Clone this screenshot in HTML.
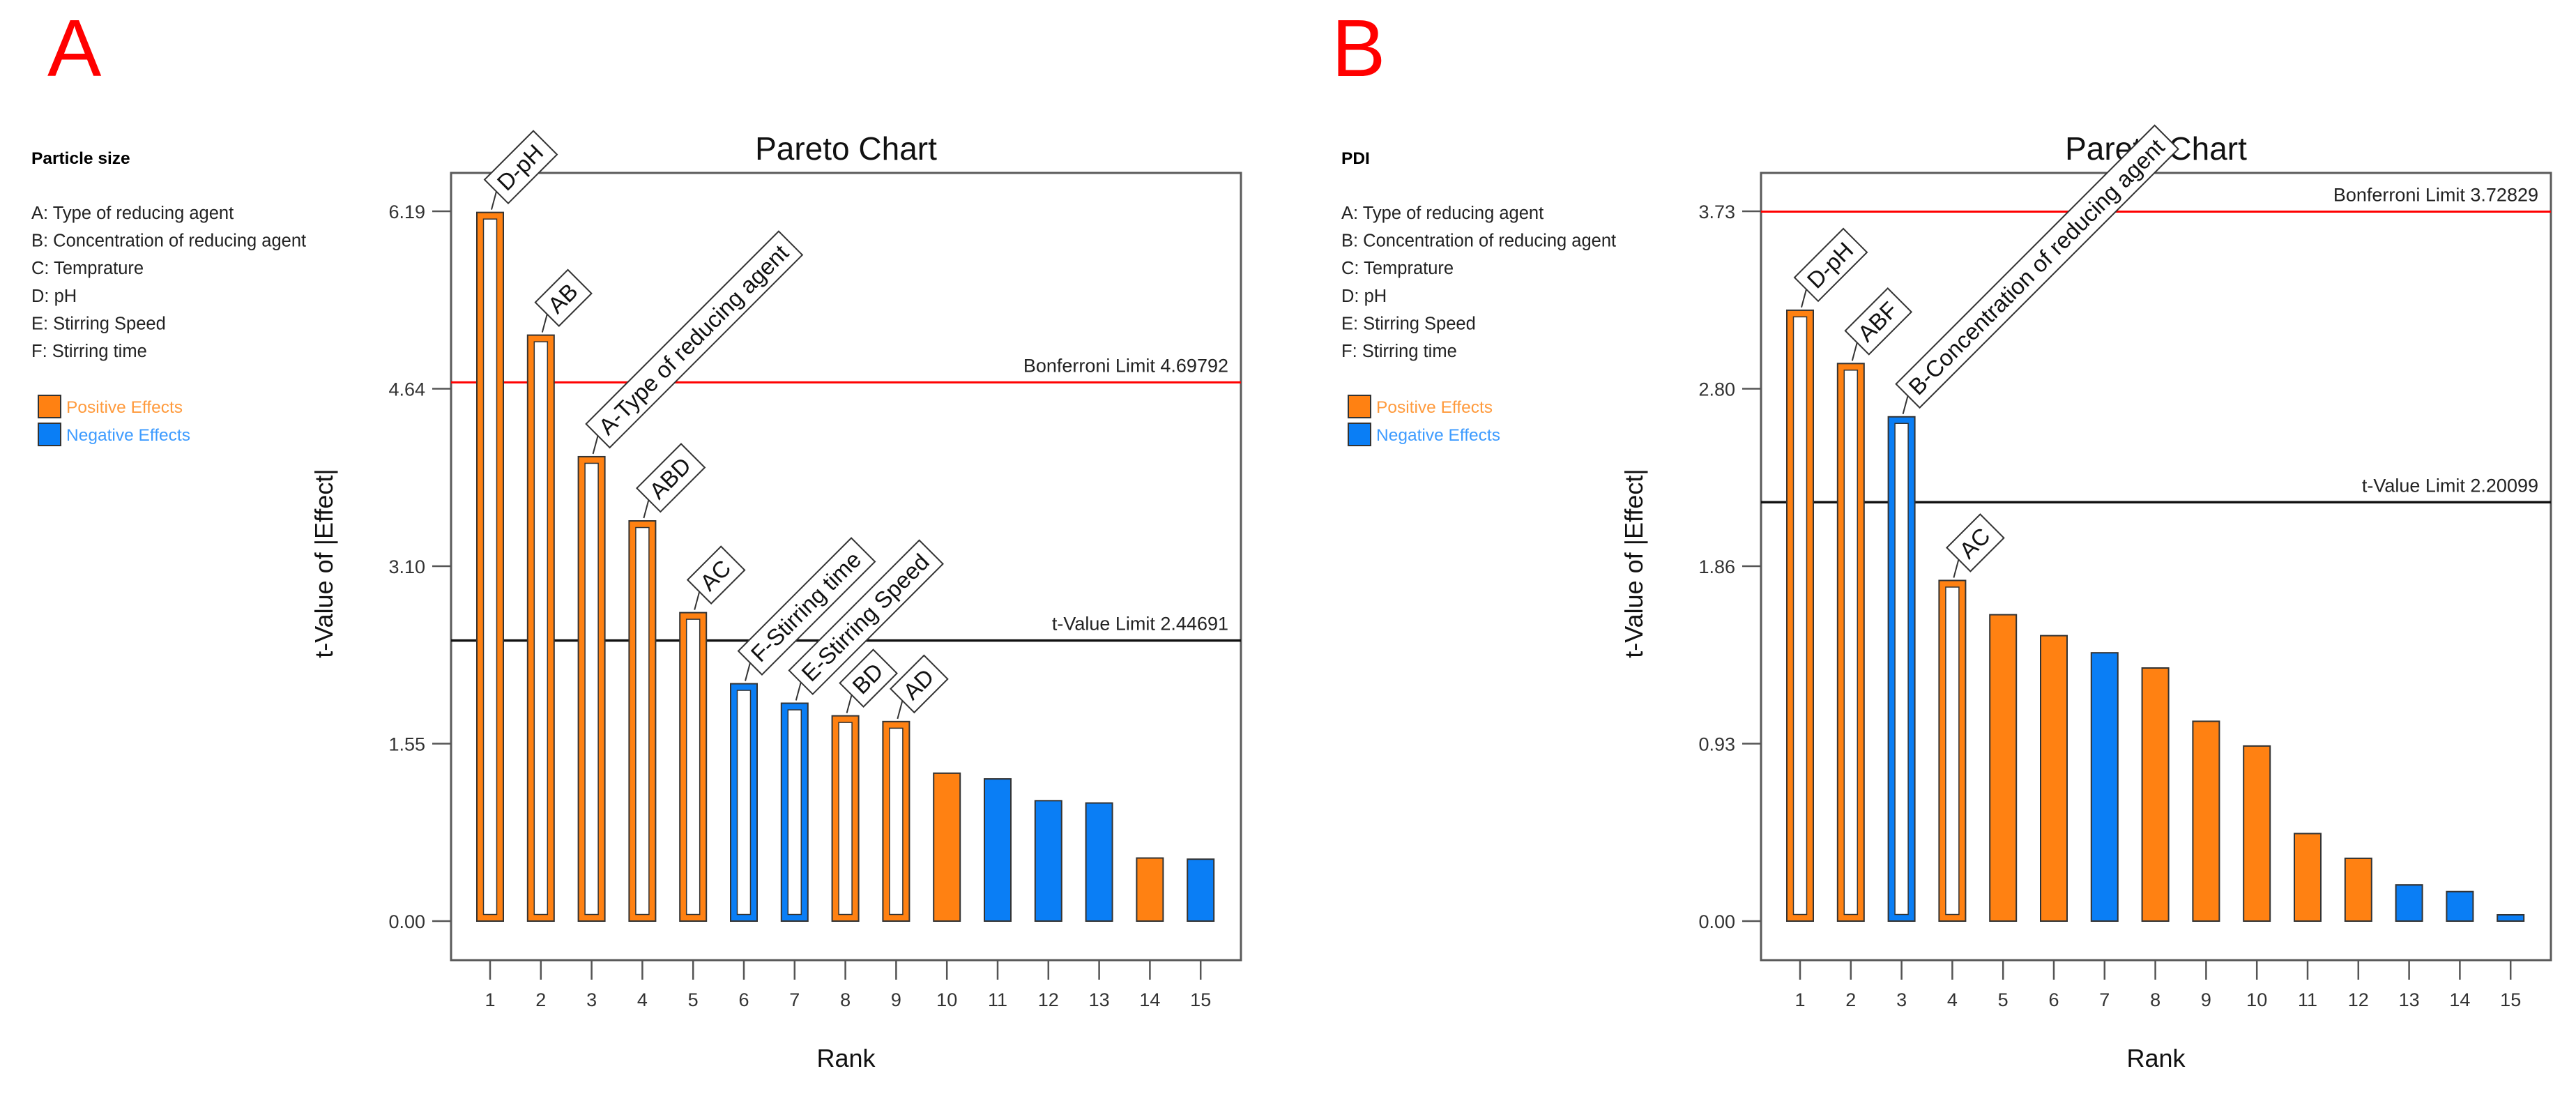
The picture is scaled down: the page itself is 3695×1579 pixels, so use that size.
<!DOCTYPE html>
<html><head><meta charset="utf-8"><style>
html,body{margin:0;padding:0;background:#fff}
svg{display:block;font-family:"Liberation Sans",sans-serif}
</style></head><body>
<svg id="svg" xmlns="http://www.w3.org/2000/svg" width="3695" height="1579" viewBox="0 0 3695 1579">
<defs><clipPath id="clipB"><rect x="1848" y="163" width="1847" height="1416"/></clipPath></defs>
<rect x="0" y="0" width="3695" height="1579" fill="#fff"/>
<g id="root"></g>
</svg>
<script>
// ---- data: panel A (Particle size) ----
var ranksA = [1,2,3,4,5,6,7,8,9,10,11,12,13,14,15];
var valuesA = [6.18,5.11,4.05,3.49,2.69,2.07,1.90,1.79,1.74,1.29,1.24,1.05,1.03,0.55,0.54];
var signsA = ['+','+','+','+','+','-','-','+','+','+','-','-','-','+','-'];
var labelsA = ['D-pH','AB','A-Type of reducing agent','ABD','AC','F-Stirring time','E-Stirring Speed','BD','AD'];
var yTicksA = ['0.00','1.55','3.10','4.64','6.19'];
var limitsA = [4.69792, 2.44691];
// ---- data: panel B (PDI) ----
var ranksB = [1,2,3,4,5,6,7,8,9,10,11,12,13,14,15];
var valuesB = [3.21,2.93,2.65,1.79,1.61,1.50,1.41,1.33,1.05,0.92,0.46,0.33,0.19,0.155,0.033];
var signsB = ['+','+','-','+','+','+','-','+','+','+','+','+','-','-','-'];
var labelsB = ['D-pH','ABF','B-Concentration of reducing agent','AC'];
var yTicksB = ['0.00','0.93','1.86','2.80','3.73'];
var limitsB = [3.72829, 2.20099];
var factorNames = ['A: Type of reducing agent','B: Concentration of reducing agent','C: Temprature','D: pH','E: Stirring Speed','F: Stirring time'];

var NS='http://www.w3.org/2000/svg';
var root=document.getElementById('root');
var ORANGE='#ff8112', BLUE='#0a7ef5', DARK='#333';
function mk(tag,attrs,parent){var e=document.createElementNS(NS,tag);for(var k in attrs)e.setAttribute(k,attrs[k]);(parent||root).appendChild(e);return e;}

function panel(dx, letterX, letter, heading, ranks, values, signs, labels, yTicks, limits, yMax, clip){
  var g=mk('g',{});
  
  
  var L=647+dx, R=1780+dx, T=248, B=1377, Y0=1321, YT=303;
  function y(v){return Y0-(Y0-YT)*v/yMax;}
  function x(r){return L+56+(r-1)*72.8;}
  var t=mk('text',{x:letterX,y:109,'font-size':116,fill:'#ff0000'},g); t.textContent=letter;
   
  t=mk('text',{x:45+dx,y:235,'font-size':24.5,'font-weight':'bold',fill:'#000'},g); t.textContent=heading;
   
  factorNames.forEach(function(f,i){
    var tt=mk('text',{x:45+dx,y:314+i*39.6,'font-size':25.5,fill:'#222'},g); tt.textContent=f;
     
  });
  var s=mk('rect',{x:55+dx,y:567,width:32,height:32,fill:ORANGE,stroke:DARK,'stroke-width':2},g);
   
  t=mk('text',{x:95+dx,y:592,'font-size':24.5,fill:'#ff9a3c'},g); t.textContent='Positive Effects';
   
  s=mk('rect',{x:55+dx,y:607,width:32,height:32,fill:BLUE,stroke:DARK,'stroke-width':2},g);
   
  t=mk('text',{x:95+dx,y:632,'font-size':24.5,fill:'#3d9bff'},g); t.textContent='Negative Effects';
   
  // title
  t=mk('text',{x:(L+R)/2,y:229,'font-size':46,'text-anchor':'middle',fill:'#111'},g); t.textContent='Pareto Chart';
   
  // axes titles
  t=mk('text',{x:0,y:0,'font-size':36,'text-anchor':'middle',fill:'#111',transform:'translate('+(477+dx)+',808) rotate(-90)'},g); t.textContent='t-Value of |Effect|';
   
  t=mk('text',{x:(L+R)/2,y:1530,'font-size':36,'text-anchor':'middle',fill:'#111'},g); t.textContent='Rank';
   
  // plot box
  var box=mk('rect',{x:L,y:T,width:R-L,height:B-T,fill:'none',stroke:'#5a5a5a','stroke-width':3},g);
   
  // y ticks
  yTicks.forEach(function(lab,i){
    var v=yMax*i/(yTicks.length-1), yy=y(v);
    var ln=mk('line',{x1:L-27,x2:L,y1:yy,y2:yy,stroke:'#555','stroke-width':2.5},g);
     
    var tl=mk('text',{x:L-37,y:yy+10,'font-size':27,'text-anchor':'end',fill:'#333'},g); tl.textContent=lab;
     
  });
  // x ticks
  ranks.forEach(function(r){
    var xx=x(r);
    var ln=mk('line',{x1:xx,x2:xx,y1:B,y2:B+28,stroke:'#555','stroke-width':2.5},g);
     
    var tl=mk('text',{x:xx,y:1443,'font-size':27,'text-anchor':'middle',fill:'#333'},g); tl.textContent=String(r);
     
  });
  // limit lines
  var yb=y(limits[0]);
  var l1=mk('line',{x1:L,x2:R,y1:yb,y2:yb,stroke:'#ff0000','stroke-width':3},g);
   
  t=mk('text',{x:R-18,y:yb-15,'font-size':27,'text-anchor':'end',fill:'#222'},g); t.textContent='Bonferroni Limit '+limits[0];
   
  var yt=y(limits[1]);
  var l2=mk('line',{x1:L,x2:R,y1:yt,y2:yt,stroke:'#111','stroke-width':3.5},g);
   
  t=mk('text',{x:R-18,y:yt-15,'font-size':27,'text-anchor':'end',fill:'#222'},g); t.textContent='t-Value Limit '+limits[1];
   
  // bars
  var lg=mk('g',clip?{'clip-path':'url(#'+clip+')'}:{},g);
  values.forEach(function(v,i){
    var xx=x(ranks[i]), top=y(v), w=38, col=signs[i]==='+'?ORANGE:BLUE;
    var b=mk('rect',{x:xx-w/2,y:top,width:w,height:Y0-top,fill:col,stroke:DARK,'stroke-width':2},g);
     
    if(i<labels.length){
      var h=Y0-top-19;
      if(h>0){
        var inn=mk('rect',{x:xx-w/2+9.5,y:top+9.5,width:w-19,height:h,fill:'#fff',stroke:DARK,'stroke-width':1.5},g);
         
      }
      var ax=xx+9, ay=top-30;
      var ld=mk('line',{x1:xx+2,y1:top-4,x2:ax,y2:ay,stroke:DARK,'stroke-width':2},lg);
       
      var lgp=mk('g',{transform:'translate('+ax+','+ay+') rotate(-45)'},lg);
       
      var rc=mk('rect',{x:0,y:-24,width:50,height:48,fill:'#fff',stroke:'#333','stroke-width':2},lgp);
      var tx=mk('text',{x:10,y:11,'font-size':33,fill:'#111'},lgp); tx.textContent=labels[i];
      var tw=tx.getComputedTextLength(); rc.setAttribute('width',tw+22);
    }
  });
}
panel(0, 68, 'A', 'Particle size', ranksA, valuesA, signsA, labelsA, yTicksA, limitsA, 6.19, null);
panel(1879, 1910, 'B', 'PDI', ranksB, valuesB, signsB, labelsB, yTicksB, limitsB, 3.73, 'clipB');
</script>
</body></html>
